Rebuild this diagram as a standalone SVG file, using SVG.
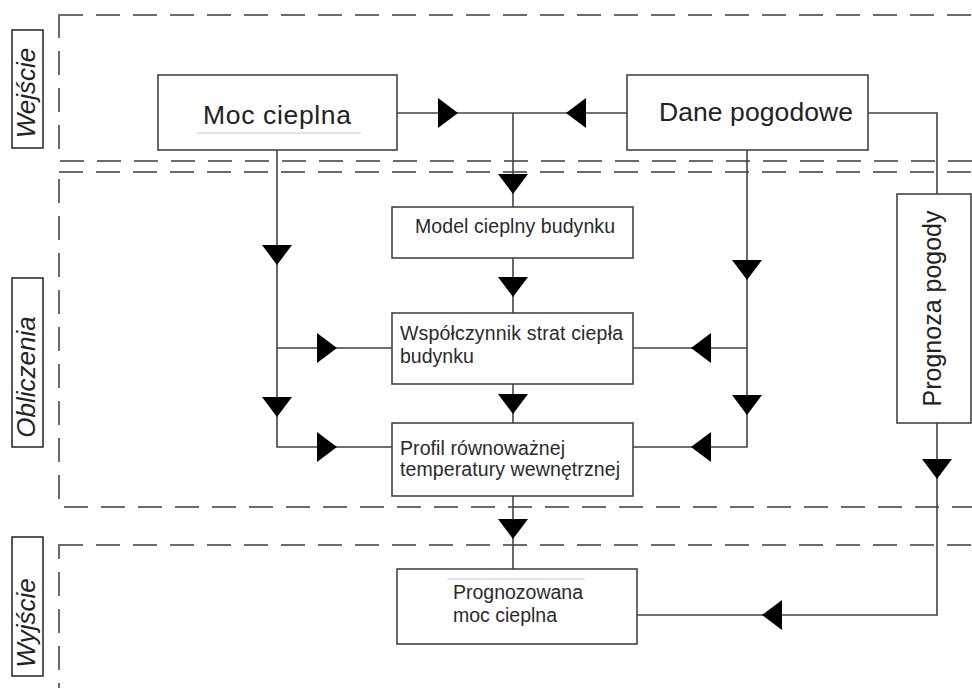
<svg xmlns="http://www.w3.org/2000/svg" xmlns:xlink="http://www.w3.org/1999/xlink" width="972" height="688" viewBox="0 0 972 688">
<defs>
<style>
.region{fill:none;stroke:#6b6b6b;stroke-width:2;stroke-dasharray:24 13;}
.lbl{fill:#fff;stroke:#222;stroke-width:1.5;}
.lbltxt{font-family:"Liberation Sans",Arial,sans-serif;font-size:26px;font-style:italic;fill:#222;}
.box{fill:#fff;stroke:#444;stroke-width:1.6;}
.big{font-family:"Liberation Sans",Arial,sans-serif;font-size:26.5px;fill:#222;}
.small{font-family:"Liberation Sans",Arial,sans-serif;font-size:19.5px;fill:#2a2a2a;}
.conn{fill:none;stroke:#444;stroke-width:1.6;}
.faint{stroke:#c8c8c8;stroke-width:1;}
</style>
<path id="arr" d="M0,0 L-20,-15 L-20,15 Z" fill="#000"/>
</defs>
<rect width="972" height="688" fill="#fff"/>

<g id="regions">
<rect class="region" x="59" y="15" width="920" height="146"/>
<rect class="region" x="59" y="172" width="920" height="335"/>
<rect class="region" x="59" y="545" width="920" height="160"/>
</g>

<g id="label-wejscie">
<rect class="lbl" x="12" y="30" width="31" height="118"/>
<text class="lbltxt" transform="translate(35,93) rotate(-90)" text-anchor="middle">Wejście</text>
</g>
<g id="label-obliczenia">
<rect class="lbl" x="12" y="278" width="31" height="169"/>
<text class="lbltxt" transform="translate(35,377) rotate(-90)" text-anchor="middle">Obliczenia</text>
</g>
<g id="label-wyjscie">
<rect class="lbl" x="12" y="537" width="31" height="139"/>
<text class="lbltxt" transform="translate(35,623) rotate(-90)" text-anchor="middle">Wyjście</text>
</g>

<g id="connectors">
<path class="conn" d="M397,113 H627"/>
<path class="conn" d="M513,113 V207"/>
<path class="conn" d="M513,258 V313"/>
<path class="conn" d="M513,384 V423"/>
<path class="conn" d="M513,496 V569"/>
<path class="conn" d="M277,150 V447 H392 M277,348 H392"/>
<path class="conn" d="M747,150 V447 H633 M747,348 H633"/>
<path class="conn" d="M868,113 H937 V194"/>
<path class="conn" d="M937,423 V615 H637"/>
<use xlink:href="#arr" transform="translate(458,113)"/>
<use xlink:href="#arr" transform="translate(566,113) rotate(180)"/>
<use xlink:href="#arr" transform="translate(513,194) rotate(90)"/>
<use xlink:href="#arr" transform="translate(513,297) rotate(90)"/>
<use xlink:href="#arr" transform="translate(513,414) rotate(90)"/>
<use xlink:href="#arr" transform="translate(513,539) rotate(90)"/>
<use xlink:href="#arr" transform="translate(277,265) rotate(90)"/>
<use xlink:href="#arr" transform="translate(277,417) rotate(90)"/>
<use xlink:href="#arr" transform="translate(337,348)"/>
<use xlink:href="#arr" transform="translate(337,447)"/>
<use xlink:href="#arr" transform="translate(747,280) rotate(90)"/>
<use xlink:href="#arr" transform="translate(747,415) rotate(90)"/>
<use xlink:href="#arr" transform="translate(691,348) rotate(180)"/>
<use xlink:href="#arr" transform="translate(691,447) rotate(180)"/>
<use xlink:href="#arr" transform="translate(937,479) rotate(90)"/>
<use xlink:href="#arr" transform="translate(762,615) rotate(180)"/>
</g>

<g id="node-moc-cieplna">
<rect class="box" x="158" y="75" width="239" height="75"/>
<line class="faint" x1="197" y1="133" x2="361" y2="133"/>
<text class="big" x="203" y="124" textLength="148">Moc cieplna</text>
</g>
<g id="node-dane-pogodowe">
<rect class="box" x="627" y="75" width="241" height="75"/>
<text class="big" x="659" y="121" textLength="194">Dane pogodowe</text>
</g>
<g id="node-model">
<rect class="box" x="392" y="207" width="241" height="51"/>
<text class="small" x="415" y="233" textLength="200">Model cieplny budynku</text>
</g>
<g id="node-wspolczynnik">
<rect class="box" x="392" y="313" width="241" height="71"/>
<text class="small" x="400" y="340" textLength="223">Współczynnik strat ciepła</text>
<text class="small" x="400" y="363">budynku</text>
</g>
<g id="node-profil">
<rect class="box" x="392" y="423" width="241" height="73"/>
<text class="small" x="400" y="455" textLength="165">Profil równoważnej</text>
<text class="small" x="400" y="476" textLength="220">temperatury wewnętrznej</text>
</g>
<g id="node-prognozowana">
<rect class="box" x="397" y="569" width="240" height="75"/>
<line class="faint" x1="447" y1="579" x2="585" y2="579"/>
<text class="small" x="453" y="599" textLength="130">Prognozowana</text>
<text class="small" x="453" y="622" textLength="104">moc cieplna</text>
</g>
<g id="node-prognoza-pogody">
<rect class="box" x="897" y="194" width="74" height="229"/>
<text class="big" style="font-size:25px" transform="translate(941,308.5) rotate(-90)" text-anchor="middle">Prognoza pogody</text>
</g>
</svg>
